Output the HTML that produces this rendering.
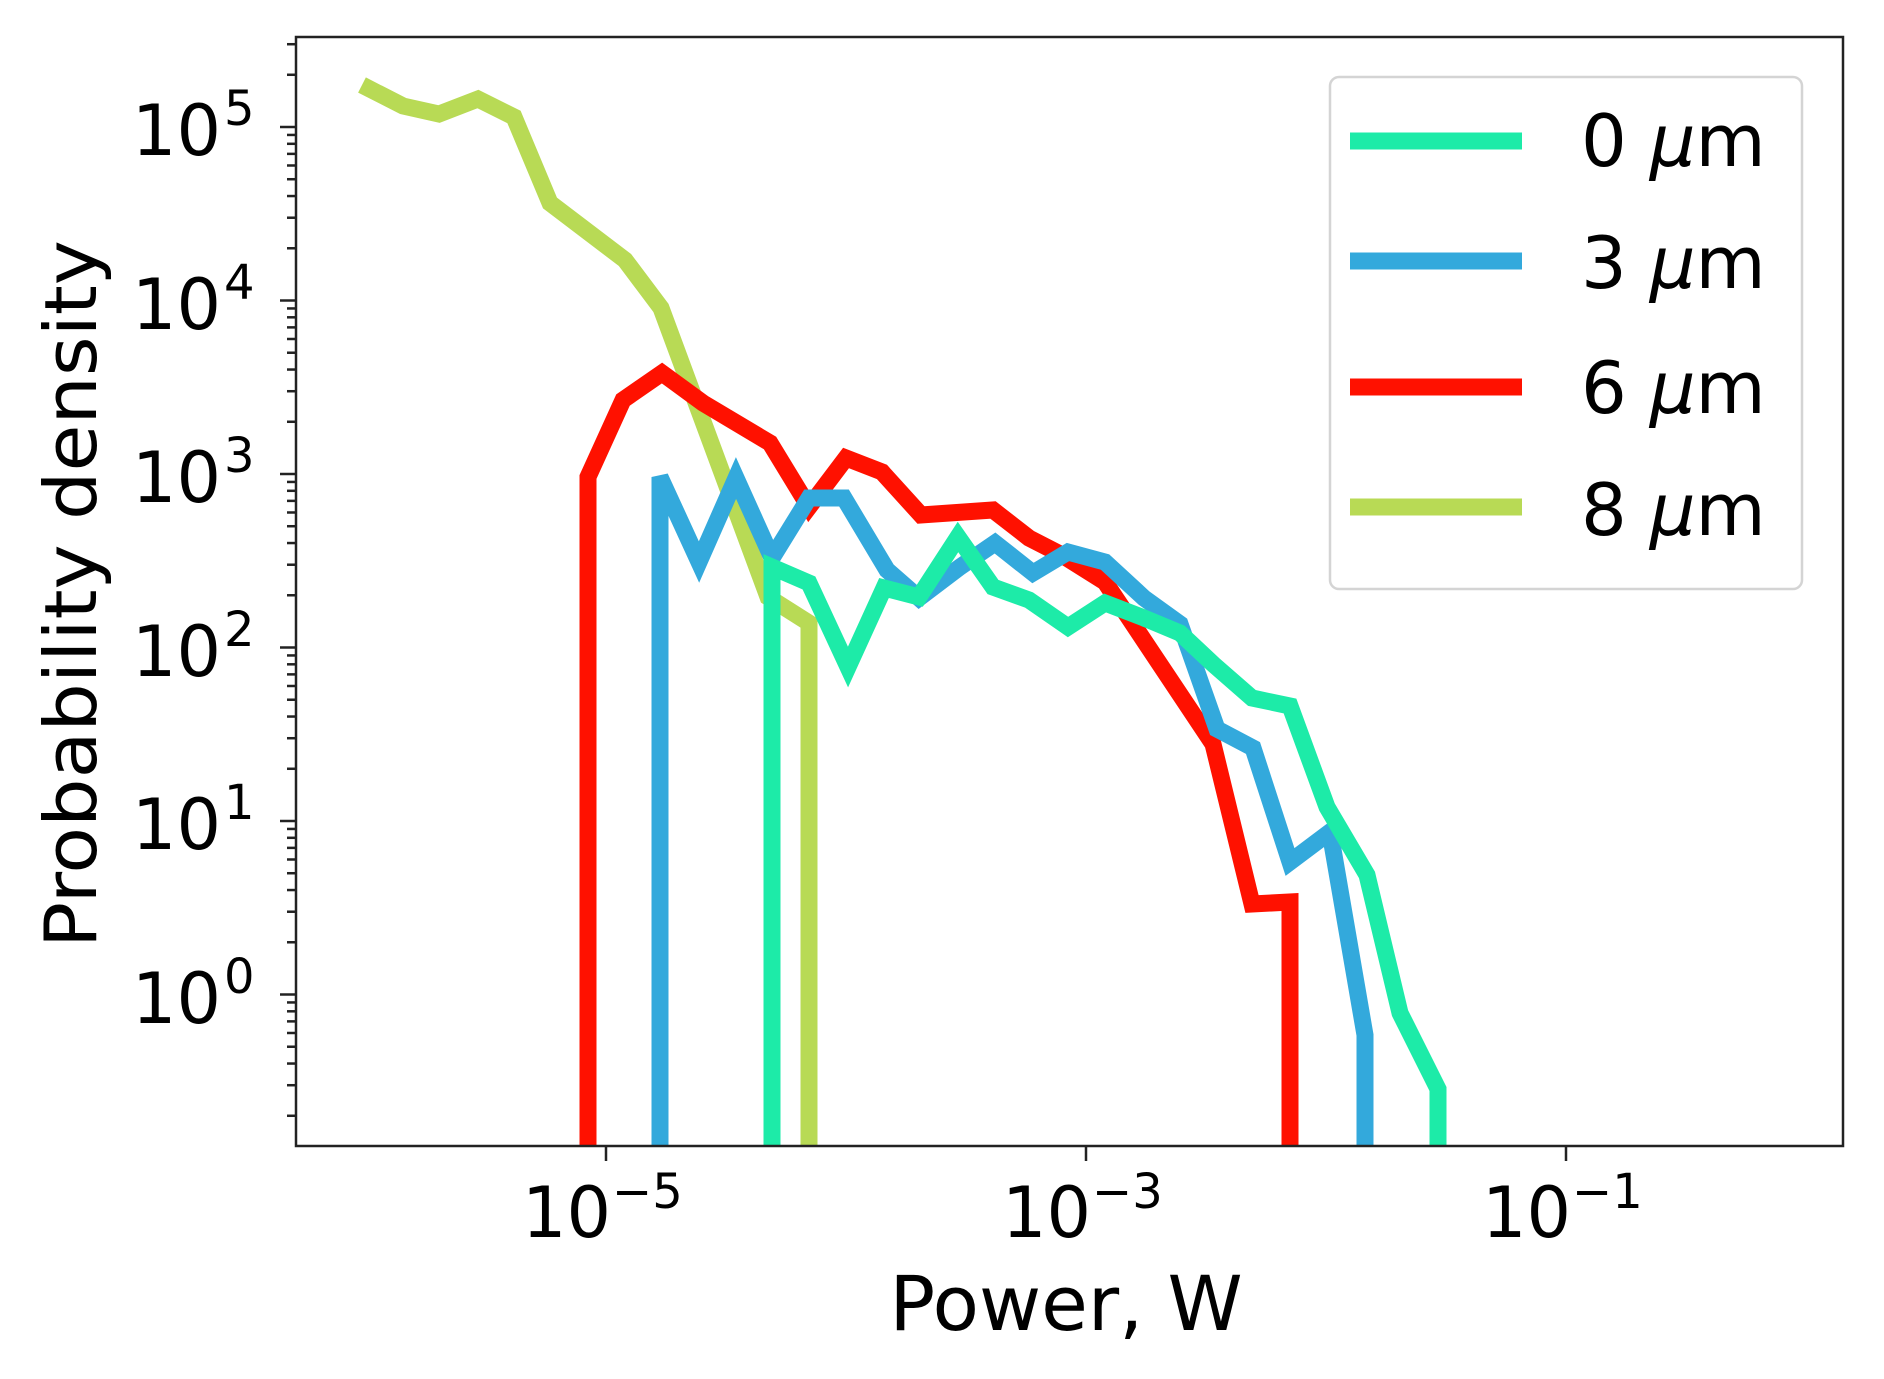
<!DOCTYPE html>
<html><head><meta charset="utf-8"><style>
html,body{margin:0;padding:0;background:#fff;}
svg{display:block;}
text{font-family:"DejaVu Sans","Liberation Sans",sans-serif;fill:#000;}
</style></head><body>
<svg id="s" width="1884" height="1379" viewBox="0 0 1884 1379" xmlns="http://www.w3.org/2000/svg">
<rect width="1884" height="1379" fill="#fff"/>
<g id="ticks" stroke="#222" stroke-width="2.5"></g>
<g fill="none" stroke-width="17" stroke-linejoin="miter" stroke-miterlimit="3">
<polyline stroke="#b8da55" points="362,85 403,106 439,114 478,99 514,117 550,203 625,260 661,308 768,597 809,623 809,1146"/>
<polyline stroke="#ff1100" points="588,1146 588,477 623,400 662,373 703,403 770,443 809,507 846,458 882,472 921,515 993,510 1029,538 1062,555 1105,582 1213,744 1252,904 1290,902 1290,1146"/>
<polyline stroke="#33a9dc" points="660,1146 660,477 699,562 736,478 772,558 809,498 844,498 887,570 919,598 960,567 995,543 1033,573 1068,552 1105,562 1144,598 1180,624 1217,729 1253,748 1290,862 1330,832 1365,1035 1365,1146"/>
<polyline stroke="#1deba8" points="772,1146 772,567 809,583 848,667 884,588 919,597 958,537 993,587 1029,600 1068,627 1105,603 1144,618 1180,633 1213,664 1252,698 1290,706 1327,807 1367,875 1400,1013 1438,1089 1438,1146"/>
</g>
<rect x="296" y="37" width="1547" height="1109" fill="none" stroke="#222" stroke-width="2.5"/>
<rect x="1330" y="77" width="472" height="512" rx="9" fill="#fff" fill-opacity="0.85" stroke="#d4d4d4" stroke-width="2.5"/>
<g stroke-width="17">
<line x1="1350" y1="141" x2="1522" y2="141" stroke="#1deba8"/>
<line x1="1350" y1="261" x2="1522" y2="261" stroke="#33a9dc"/>
<line x1="1350" y1="387" x2="1522" y2="387" stroke="#ff1100"/>
<line x1="1350" y1="507" x2="1522" y2="507" stroke="#b8da55"/>
</g>
<g font-size="72">
<text x="1581" y="166">0 <tspan font-style="italic">μ</tspan>m</text>
<text x="1581" y="288">3 <tspan font-style="italic">μ</tspan>m</text>
<text x="1581" y="413">6 <tspan font-style="italic">μ</tspan>m</text>
<text x="1581" y="535">8 <tspan font-style="italic">μ</tspan>m</text>
</g>
<g font-size="70" text-anchor="end">
<text x="221" y="155">10</text>
<text x="221" y="329">10</text>
<text x="221" y="502">10</text>
<text x="221" y="676">10</text>
<text x="221" y="849">10</text>
<text x="221" y="1023">10</text>
</g>
<g font-size="48">
<text x="224" y="125">5</text>
<text x="224" y="299">4</text>
<text x="224" y="472">3</text>
<text x="224" y="646">2</text>
<text x="224" y="819">1</text>
<text x="224" y="993">0</text>
</g>
<g font-size="70">
<text x="522" y="1237">10</text>
<text x="1002" y="1237">10</text>
<text x="1482" y="1237">10</text>
</g>
<g font-size="48">
<text x="612" y="1208">−5</text>
<text x="1092" y="1208">−3</text>
<text x="1572" y="1208">−1</text>
</g>
<text x="1066" y="1330" font-size="76" text-anchor="middle">Power, W</text>
<text transform="translate(96,594) rotate(-90)" font-size="72" text-anchor="middle" textLength="708" lengthAdjust="spacingAndGlyphs">Probability density</text>
</svg>
<script>
var g=document.getElementById('ticks'),ns="http://www.w3.org/2000/svg";
function ln(x1,y1,x2,y2){var l=document.createElementNS(ns,'line');l.setAttribute('x1',x1);l.setAttribute('y1',y1);l.setAttribute('x2',x2);l.setAttribute('y2',y2);g.appendChild(l);}
for(var d=-1;d<=5;d++){var y0=127+(5-d)*173.5;if(y0>=37&&y0<=1146)ln(280,y0,296,y0);
for(var k=2;k<=9;k++){var y=y0-Math.log10(k)*173.5;if(y>=37&&y<=1146)ln(287,y,296,y);}}
[606,1086,1566].forEach(function(x){ln(x,1146,x,1161);});
</script>
</body></html>
